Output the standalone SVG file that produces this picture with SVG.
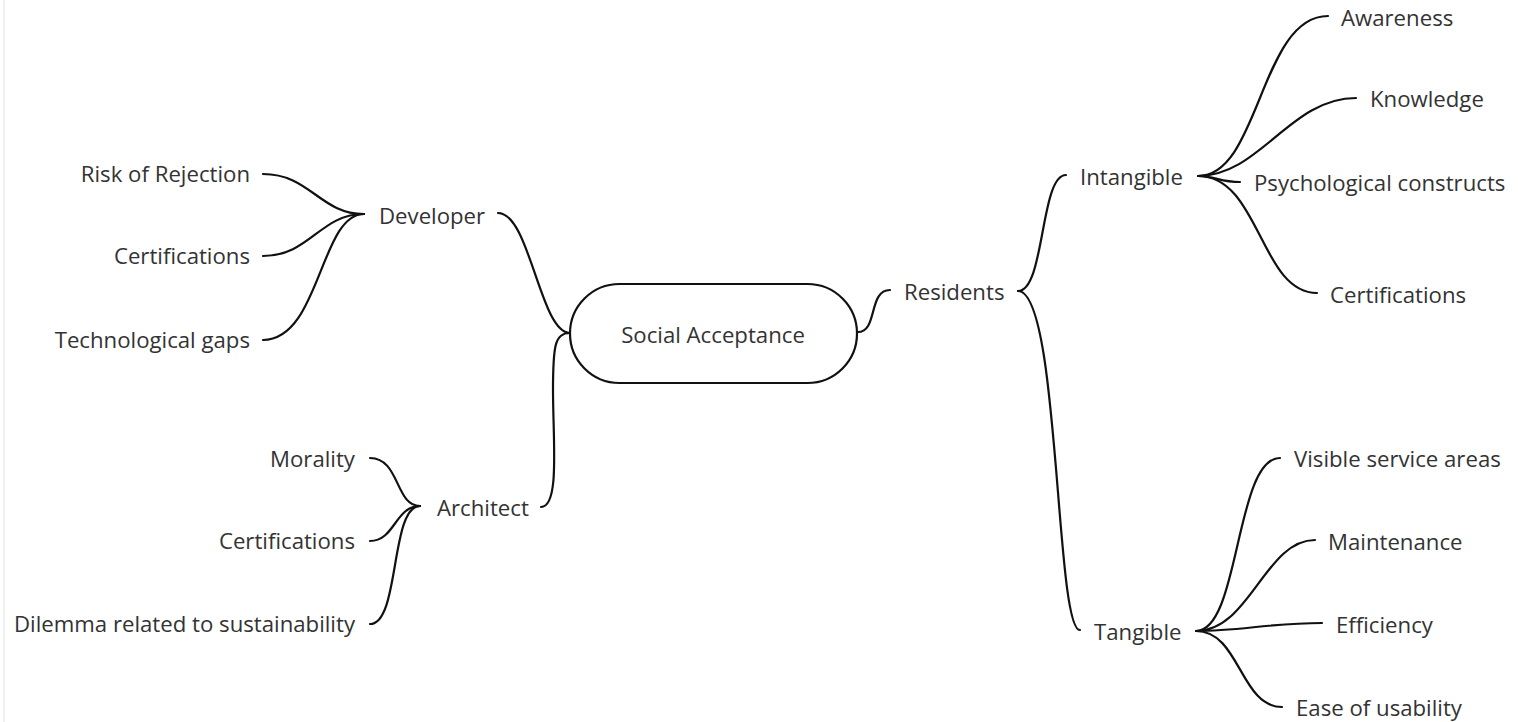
<svg xmlns="http://www.w3.org/2000/svg" width="1518" height="722" viewBox="0 0 1518 722">
<style>
text{font-family:"Open Sans","Noto Sans","Liberation Sans",sans-serif;font-size:22.2px;fill:#333;dominant-baseline:central}
.r{text-anchor:end}
.c{text-anchor:middle}
.l{fill:none;stroke:#111;stroke-width:2.2;stroke-linecap:round}
</style>
<rect width="1518" height="722" fill="#fff"/>
<line x1="4" y1="0" x2="4" y2="722" stroke="#eeeeee" stroke-width="1.5"/>
<g id="connectors" class="l">
<path class="l" d="M498,213 C530,213 540,333 570,333"/>
<path class="l" d="M541,507 C560,507 553,440 553,390 C553,345 555,333 570,333"/>
<path class="l" d="M858,332 C878,332 868,290 890,290"/>
<path class="l" d="M1018,291 C1045,291 1040,175 1066,175"/>
<path class="l" d="M1018,291 C1060,291 1055,630 1080,630"/>
<path class="l" d="M1198,176 C1260,176 1260,16 1328,16"/>
<path class="l" d="M1198,176 C1260,176 1290,98 1356,98"/>
<path class="l" d="M1198,176 C1215,176 1220,182 1240,182"/>
<path class="l" d="M1198,176 C1260,176 1260,293 1317,293"/>
<path class="l" d="M1196,631 C1240,631 1235,458 1280,458"/>
<path class="l" d="M1196,631 C1250,631 1265,540 1315,540"/>
<path class="l" d="M1196,631 C1240,631 1270,623 1322,623"/>
<path class="l" d="M1196,631 C1240,631 1240,707 1282,707"/>
<path class="l" d="M263,174 C310,174 320,214 364,214"/>
<path class="l" d="M263,256 C310,256 320,214 364,214"/>
<path class="l" d="M263,340 C320,340 320,214 364,214"/>
<path class="l" d="M370,458 C400,458 395,506 420,506"/>
<path class="l" d="M370,541 C395,541 395,506 420,506"/>
<path class="l" d="M370,624 C400,624 390,506 420,506"/>
</g>
<g id="social-acceptance">
<rect x="570" y="284" width="287" height="99" rx="49.5" fill="#fff" stroke="#111" stroke-width="2.2"/>
<text x="713" y="334" class="c">Social Acceptance</text>
</g>
<g id="developer"><text x="379" y="215">Developer</text></g>
<g id="architect"><text x="437" y="507">Architect</text></g>
<g id="residents"><text x="904" y="291">Residents</text></g>
<g id="intangible"><text x="1080" y="176">Intangible</text></g>
<g id="tangible"><text x="1094" y="631">Tangible</text></g>
<g id="risk"><text x="250" y="173" class="r">Risk of Rejection</text></g>
<g id="dev-cert"><text x="250" y="255" class="r">Certifications</text></g>
<g id="tech-gaps"><text x="250" y="339" class="r">Technological gaps</text></g>
<g id="morality"><text x="355" y="458" class="r">Morality</text></g>
<g id="arch-cert"><text x="355" y="540" class="r">Certifications</text></g>
<g id="dilemma"><text x="355" y="623" class="r">Dilemma related to sustainability</text></g>
<g id="awareness"><text x="1341" y="17">Awareness</text></g>
<g id="knowledge"><text x="1370" y="98">Knowledge</text></g>
<g id="psych"><text x="1254" y="182">Psychological constructs</text></g>
<g id="int-cert"><text x="1330" y="294">Certifications</text></g>
<g id="visible"><text x="1294" y="458">Visible service areas</text></g>
<g id="maintenance"><text x="1328" y="541">Maintenance</text></g>
<g id="efficiency"><text x="1336" y="624">Efficiency</text></g>
<g id="ease"><text x="1296" y="707">Ease of usability</text></g>
</svg>
